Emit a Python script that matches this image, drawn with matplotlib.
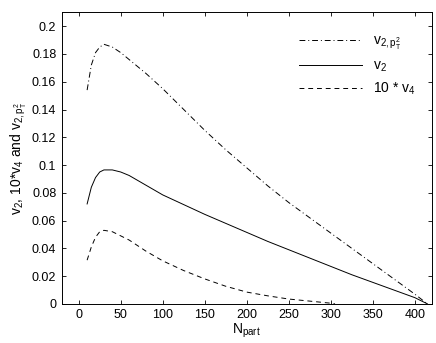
import matplotlib
matplotlib.use('Agg')
import matplotlib.pyplot as plt

plt.rcParams['font.family'] = ['Liberation Sans', 'DejaVu Sans']
plt.rcParams['mathtext.fontset'] = 'custom'
plt.rcParams['mathtext.rm'] = 'Liberation Sans'
plt.rcParams['mathtext.it'] = 'Liberation Sans'
plt.rcParams['mathtext.default'] = 'rm'

# данные
npart = [10, 15, 20, 25, 30, 40, 50, 60, 80, 100, 125, 150, 175, 200,
         225, 250, 275, 300, 325, 350, 375, 400, 415]
v2_pt2 = [0.154, 0.172, 0.181, 0.185, 0.187, 0.185, 0.181, 0.176, 0.166, 0.155,
          0.140, 0.125, 0.111, 0.098, 0.085, 0.073, 0.062, 0.051, 0.040, 0.029,
          0.018, 0.007, 0.0]
v2 = [0.072, 0.084, 0.091, 0.095, 0.0965, 0.0965, 0.095, 0.0925, 0.0855, 0.0785,
      0.0715, 0.0645, 0.058, 0.0515, 0.045, 0.039, 0.033, 0.027, 0.021, 0.0155,
      0.010, 0.0045, 0.0]
npart_v4 = [10, 15, 20, 25, 30, 40, 50, 60, 80, 100, 125, 150, 175, 200,
            225, 250, 275, 300, 305]
v4_x10 = [0.0315, 0.041, 0.048, 0.052, 0.053, 0.052, 0.049, 0.046, 0.038, 0.031,
          0.024, 0.018, 0.0127, 0.0085, 0.0058, 0.0035, 0.002, 0.0005, 0.0]

fig = plt.figure(figsize=(4.36, 3.43), dpi=100)
ax = fig.add_axes([0.142, 0.114, 0.848, 0.850])

ax.plot(npart, v2_pt2, color='black', lw=0.7, dashes=(6, 3, 1, 3),
        label=r'$v_{2,p_T^2}$')
ax.plot(npart, v2, color='black', lw=0.7, label=r'$v_2$')
ax.plot(npart_v4, v4_x10, color='black', lw=0.7, dashes=(5, 4),
        label=r'10 * $v_4$')

ax.set_xlim(-20, 420)
ax.set_ylim(0, 0.21)
ax.set_xticks(range(0, 401, 50))
ax.set_yticks([0, 0.02, 0.04, 0.06, 0.08, 0.1, 0.12, 0.14, 0.16, 0.18, 0.2])
ax.set_yticklabels(['0', '0.02', '0.04', '0.06', '0.08', '0.1', '0.12',
                    '0.14', '0.16', '0.18', '0.2'])
ax.tick_params(direction='in', length=3, width=0.6, top=True, right=True,
               labelsize=9, pad=4)
for s in ax.spines.values():
    s.set_linewidth(0.7)

ax.set_xlabel(r'N$_{part}$', fontsize=10, labelpad=0)
ax.set_ylabel(r'v$_2$, 10*v$_4$ and v$_{2,p_T^2}$', fontsize=10, labelpad=2)

ax.legend(loc='upper right', frameon=False, fontsize=10, handlelength=4.5,
          bbox_to_anchor=(0.99, 0.97), labelspacing=0.5)

fig.savefig('out.png', dpi=100)
